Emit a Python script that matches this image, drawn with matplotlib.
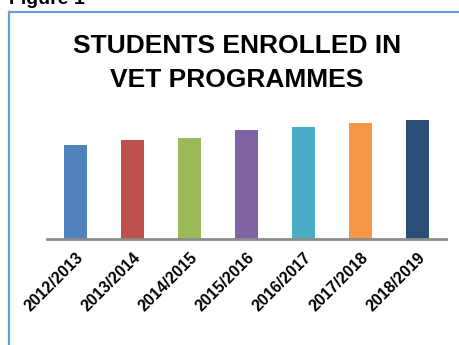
import matplotlib.pyplot as plt

# school years and bar heights (no scale shown, relative values)
years = ['2012/2013', '2013/2014', '2014/2015', '2015/2016',
         '2016/2017', '2017/2018', '2018/2019']
students = [94, 99, 101, 109, 112, 116, 119]
colors = ['#4f81bd', '#c0504d', '#9bbb59', '#8064a2',
          '#4bacc6', '#f79646', '#2c4d75']

plt.rcParams['font.family'] = ['Liberation Sans', 'DejaVu Sans']

fig = plt.figure(figsize=(4.6, 3.45), dpi=100)
W, H = 460, 345

# blue frame round the chart (left and top edge only are visible)
fig.add_artist(plt.Line2D([8.5 / W, 8.5 / W], [0, 1 - 11.5 / H],
                          color='#6a9bd8', lw=1.6))
fig.add_artist(plt.Line2D([8.5 / W, 1], [1 - 11.5 / H, 1 - 11.5 / H],
                          color='#6a9bd8', lw=1.6))

# "Figure 1" caption, mostly cut off by the top edge
fig.text(9 / W, 1 - 4 / H, 'Figure 1', fontsize=14, fontweight='bold',
         ha='left', va='baseline')

# title
fig.text(237 / W, 1 - 46 / H, 'STUDENTS ENROLLED IN', fontsize=19,
         fontweight='bold', ha='center', va='center')
fig.text(237 / W, 1 - 80 / H, 'VET PROGRAMMES', fontsize=19,
         fontweight='bold', ha='center', va='center')

ax = fig.add_axes([47 / W, 1 - 239 / H, 399 / W, 139 / H])
x = range(len(years))
ax.bar(x, students, width=0.4, color=colors, zorder=2)
ax.set_xlim(-0.5, len(years) - 0.5)
ax.set_ylim(0, 139)

for side in ['top', 'right', 'left']:
    ax.spines[side].set_visible(False)
ax.spines['bottom'].set_color('#8c8c8c')
ax.spines['bottom'].set_linewidth(2)
ax.set_yticks([])
ax.set_xticks(list(x))
ax.set_xticklabels(years, rotation=45, ha='right', rotation_mode='anchor',
                   fontsize=11.5, fontweight='bold')
ax.tick_params(axis='x', length=0, pad=8)

plt.savefig('out.png', dpi=100)
